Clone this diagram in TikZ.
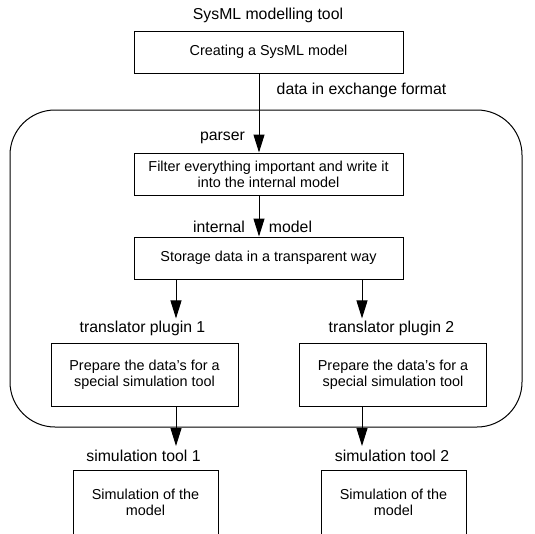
\documentclass[tikz,border=0pt]{standalone}
\usepackage{fontspec}
\setmainfont{Liberation Sans}
\usetikzlibrary{arrows.meta}

\begin{document}
\begin{tikzpicture}[x=1pt,y=-1pt,
    box/.style={draw, line width=1pt, align=center, inner sep=0pt,
      font=\fontsize{14.4}{16}\selectfont},
    lbl/.style={inner sep=0pt, font=\fontsize{15.8}{18}\selectfont},
    arr/.style={line width=1pt, -{Triangle[length=18pt,width=11pt]}}]
    % Fix the picture size
    \useasboundingbox (0,0) rectangle (535,533);

    % Draw the region of the internal tool
    \draw[line width=1pt, rounded corners=45pt] (10,110) rectangle (522,427);

    % SysML modelling tool
    \node[lbl] (sysml) at (268,15) {SysML modelling tool};
    \node[box, minimum width=269pt, minimum height=42pt] (create) at (268.5,52) {Creating a SysML model};
    \node[lbl] (exch) at (361.5,90) {data in exchange format};

    % Parser and internal model
    \node[box, minimum width=269pt, minimum height=42pt] (filter) at (268.5,174) {Filter everything important and write it\\into the internal model};
    \node[lbl] (parser) at (222.5,138) {parser};
    \node[box, minimum width=269pt, minimum height=42pt] (store) at (268.5,258) {Storage data in a transparent way};
    \node[lbl] (intern) at (219,227) {internal};
    \node[lbl] (model) at (290.5,227) {model};

    \draw[arr] ([xshift=-9.5pt]create.south) -- ([xshift=-9.5pt]filter.north);
    \draw[arr] ([xshift=-9.5pt]filter.south) -- ([xshift=-9.5pt]store.north);

    % Translator plugins
    \node[lbl] (tp1) at (142.5,328) {translator plugin 1};
    \node[lbl] (tp2) at (391.5,328) {translator plugin 2};
    \node[box, minimum width=187pt, minimum height=63pt] (prep1) at (144.5,374.5) {Prepare the data's for a\\special simulation tool};
    \node[box, minimum width=187pt, minimum height=63pt] (prep2) at (393,374.5) {Prepare the data's for a\\special simulation tool};
    \coordinate (in1) at ([xshift=33.5pt,yshift=2pt]tp1.north);
    \coordinate (in2) at ([xshift=-29.5pt,yshift=2pt]tp2.north);

    \draw[arr] (store.south -| in1) -- (in1);
    \draw[arr] (store.south -| in2) -- (in2);

    % Simulation tools
    \node[lbl] (st1) at (143.5,456) {simulation tool 1};
    \node[lbl] (st2) at (392,456) {simulation tool 2};
    \node[box, minimum width=145pt, minimum height=90pt, anchor=north] (sim1) at (145.5,470) {};
    \node[box, minimum width=145pt, minimum height=90pt, anchor=north] (sim2) at (393.5,470) {};
    \node[box, draw=none] (simtxt1) at ([yshift=-32pt]sim1.north) {Simulation of the\\model};
    \node[box, draw=none] (simtxt2) at ([yshift=-32pt]sim2.north) {Simulation of the\\model};

    \draw[arr] (prep1.south -| in1) -- ([yshift=4pt]st1.north -| in1);
    \draw[arr] (prep2.south -| in2) -- ([yshift=4pt]st2.north -| in2);
\end{tikzpicture}
\end{document}
